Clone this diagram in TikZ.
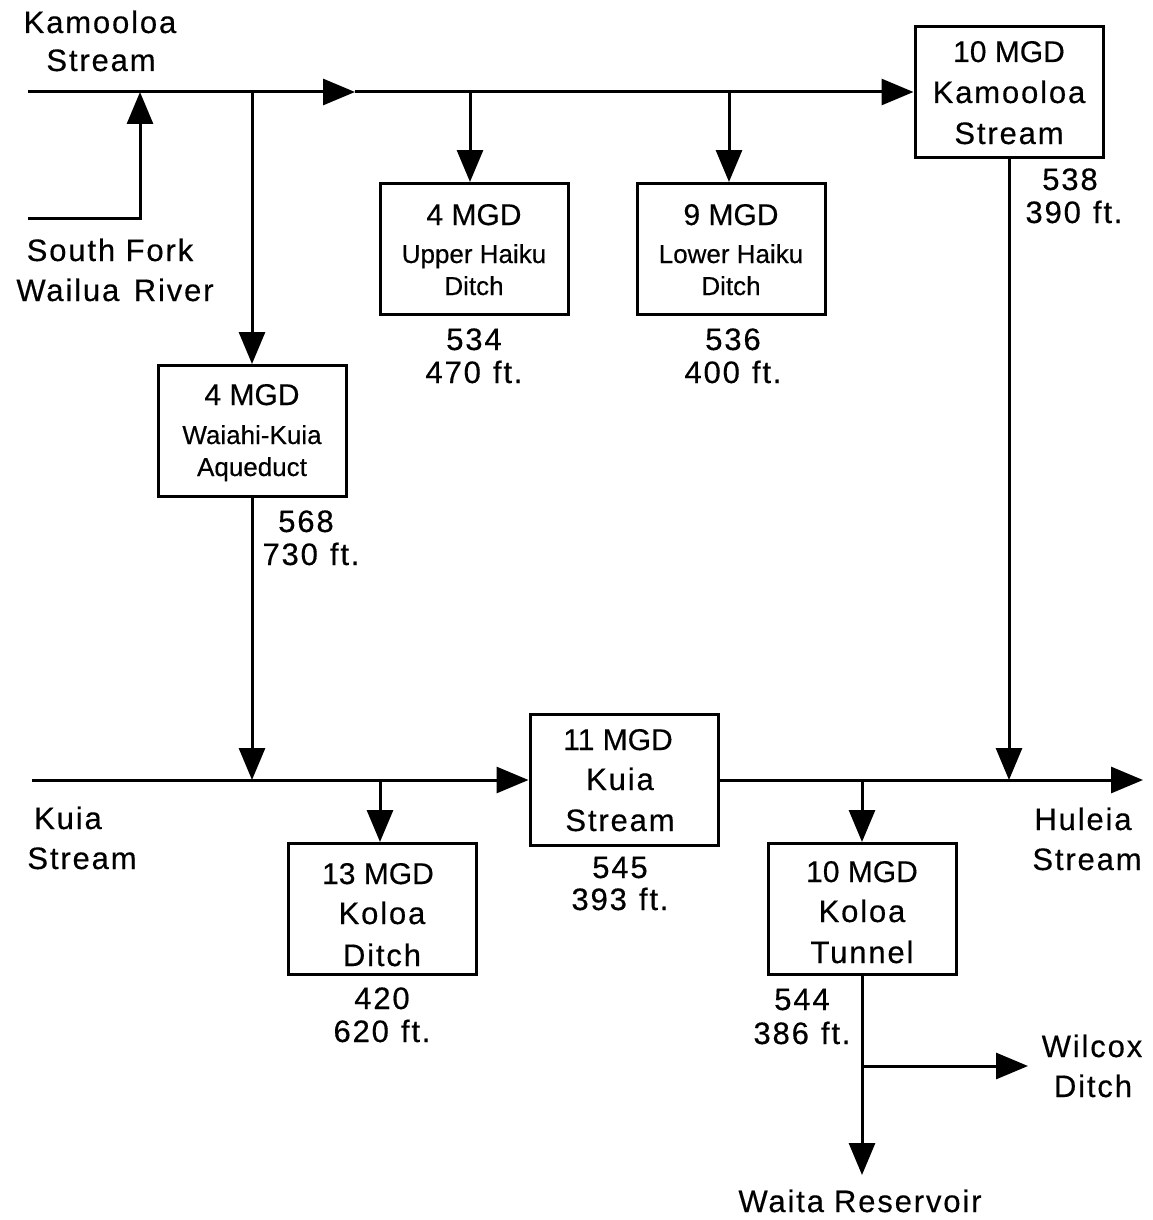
\documentclass[tikz,border=0pt]{standalone}
\usepackage{fontspec}
\setmainfont{Liberation Sans}
\newfontfamily\bigf[LetterSpace=6,FakeBold=0.4]{Liberation Sans}
\newfontfamily\mgdf[LetterSpace=0,FakeBold=0.4]{Liberation Sans}
\usetikzlibrary{arrows.meta}
\begin{document}
\begin{tikzpicture}[x=1pt,y=-1pt,
  line width=3pt,
  flow/.style={-{Triangle[length=32pt,width=26pt]}},
  box/.style={draw, line width=3pt, minimum width=188pt, minimum height=131pt, inner sep=0pt},
  lbl/.style={anchor=base, inner sep=0pt, font=\bigf\fontsize{31}{36}\selectfont},
  mgd/.style={anchor=base, inner sep=0pt, font=\mgdf\fontsize{30}{34}\selectfont},
  sml/.style={anchor=base, inner sep=0pt, font=\mgdf\fontsize{26}{30}\selectfont},
]
\useasboundingbox (0,0) rectangle (1153,1220);

% boxes
\node[box] (kam) at (1009,92) {};
\node[box] (up) at (474,249) {};
\node[box] (low) at (731,249) {};
\node[box] (wai) at (252,431) {};
\node[box] (kuia) at (624,780) {};
\node[box] (kd) at (382,909) {};
\node[box] (tun) at (862,909) {};

% junction coordinates
\coordinate (kA) at (28,92);
\coordinate (m1) at (355,92);
\coordinate (sfA) at (28,218);
\coordinate (sfB) at (140,218);
\coordinate (sf) at (140,92);
\coordinate (j1) at (252,92);
\coordinate (j2) at (470,92);
\coordinate (j3) at (729,92);
\coordinate (kB) at (32,780);
\coordinate (j4) at (252,780);
\coordinate (j5) at (380,780);
\coordinate (j6) at (862,780);
\coordinate (j7) at (1009,780);
\coordinate (hul) at (1143,780);
\coordinate (w1) at (862,1066);
\coordinate (wil) at (1028,1066);
\coordinate (waita) at (862,1175);

% connectors
\draw[flow] (kA) -- (m1);
\draw[flow] (m1) -- (kam.west);
\draw[flow] (sfA) -- (sfB) -- (sf);
\draw[flow] (j1) -- (wai.north);
\draw[flow] (j2) -- (j2 |- up.north);
\draw[flow] (j3) -- (j3 |- low.north);
\draw[flow] (kam.south) -- (j7);
\draw[flow] (wai.south) -- (j4);
\draw[flow] (kB) -- (kuia.west);
\draw[flow] (j5) -- (j5 |- kd.north);
\draw[flow] (kuia.east) -- (hul);
\draw[flow] (j6) -- (tun.north);
\draw[flow] (tun.south) -- (waita);
\draw[flow] (w1) -- (wil);

% free labels
\node[lbl] (t1) at (100,33) {Kamooloa};
\node[lbl] (t2) at (101,71) {Stream};
\node[lbl] (t3) at (110,261) {South Fork};
\node[lbl] (t4) at (115,301) {Wailua\hspace{4pt} River};
\node[lbl] (t5) at (68,829) {Kuia};
\node[lbl] (t6) at (82,869) {Stream};
\node[lbl] (t7) at (1083,830) {Huleia};
\node[lbl] (t8) at (1087,870) {Stream};
\node[lbl] (t9) at (1092,1057) {Wilcox};
\node[lbl] (t10) at (1093,1097) {Ditch};
\node[lbl] (t11) at (860,1212) {Waita\hspace{10pt}Reservoir};

% box texts
\node[mgd] (k1) at (1009,62) {10 MGD};
\node[lbl] (k2) at (1009,103) {Kamooloa};
\node[lbl] (k3) at (1009,144) {Stream};
\node[lbl] (k4) at (1070,190) {538};
\node[lbl] (k5) at (1074,223) {390\hspace{12pt}ft.};

\node[mgd] (u1) at (474,225) {4 MGD};
\node[sml] (u2) at (474,263) {Upper Haiku};
\node[sml] (u3) at (474,295) {Ditch};
\node[lbl] (u4) at (474,350) {534};
\node[lbl] (u5) at (474,383) {470\hspace{12pt}ft.};

\node[mgd] (l1) at (731,225) {9 MGD};
\node[sml] (l2) at (731,263) {Lower Haiku};
\node[sml] (l3) at (731,295) {Ditch};
\node[lbl] (l4) at (733,350) {536};
\node[lbl] (l5) at (733,383) {400\hspace{12pt}ft.};

\node[mgd] (w1t) at (252,405) {4 MGD};
\node[sml] (w2t) at (252,444) {Waiahi-Kuia};
\node[sml] (w3t) at (252,476) {Aqueduct};
\node[lbl] (w4t) at (306,532) {568};
\node[lbl] (w5t) at (311,565) {730\hspace{12pt}ft.};

\node[mgd] (c1) at (618,750) {11 MGD};
\node[lbl] (c2) at (620,790) {Kuia};
\node[lbl] (c3) at (620,831) {Stream};
\node[lbl] (c4) at (620,878) {545};
\node[lbl] (c5) at (620,910) {393\hspace{12pt}ft.};

\node[mgd] (d1) at (378,884) {13 MGD};
\node[lbl] (d2) at (382,924) {Koloa};
\node[lbl] (d3) at (382,966) {Ditch};
\node[lbl] (d4) at (382,1009) {420};
\node[lbl] (d5) at (382,1042) {620\hspace{12pt}ft.};

\node[mgd] (n1) at (862,882) {10 MGD};
\node[lbl] (n2) at (862,922) {Koloa};
\node[lbl] (n3) at (862,963) {Tunnel};
\node[lbl] (n4) at (802,1010) {544};
\node[lbl] (n5) at (802,1044) {386\hspace{12pt}ft.};
\end{tikzpicture}
\end{document}
